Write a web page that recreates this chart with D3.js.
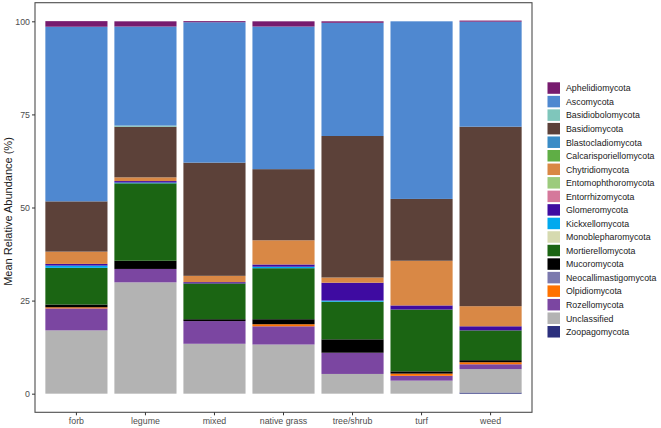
<!DOCTYPE html>
<html>
<head>
<meta charset="utf-8">
<script src="https://cdn.jsdelivr.net/npm/d3@7"></script>
<style>
  body { margin: 0; background: #fff; }
  svg { display: block; font-family: "Liberation Sans", Arial, sans-serif; }
</style>
</head>
<body>
<svg id="chart" width="661" height="428"></svg>
<script>
// ---- Data ----
const categories = ["forb", "legume", "mixed", "native grass", "tree/shrub", "turf", "weed"];
const phyla = ["Aphelidiomycota", "Ascomycota", "Basidiobolomycota", "Basidiomycota", "Blastocladiomycota",
  "Calcarisporiellomycota", "Chytridiomycota", "Entomophthoromycota", "Entorrhizomycota", "Glomeromycota",
  "Kickxellomycota", "Monoblepharomycota", "Mortierellomycota", "Mucoromycota", "Neocallimastigomycota",
  "Olpidiomycota", "Rozellomycota", "Unclassified", "Zoopagomycota"];
const phylumColors = ["#771b6e", "#4f88d0", "#7fc6bb", "#5c4139", "#3a8cc6",
  "#5fae45", "#d98845", "#9ccb7d", "#d5789b", "#3e0ba1",
  "#00a9ee", "#d6dab0", "#1b6513", "#000000", "#7b79ae",
  "#ff7200", "#7b46a1", "#b3b3b3", "#2b2f7d"];

// values per phylum, in category order
const aphelidiomycota        = [1.5, 1.4, 0.3, 1.4, 0.4, 0.0, 0.3];
const ascomycota             = [46.9, 26.6, 37.7, 38.3, 30.4, 47.7, 28.2];
const basidiobolomycota      = [0.0, 0.3, 0.0, 0.0, 0.0, 0.0, 0.0];
const basidiomycota          = [13.5, 13.6, 30.4, 19.1, 38.0, 16.6, 48.2];
const blastocladiomycota     = [0.0, 0.0, 0.0, 0.0, 0.0, 0.0, 0.0];
const calcarisporiellomycota = [0.0, 0.0, 0.0, 0.0, 0.0, 0.0, 0.0];
const chytridiomycota        = [3.3, 1.0, 1.7, 6.5, 1.4, 12.0, 5.4];
const entomophthoromycota    = [0.0, 0.0, 0.0, 0.0, 0.0, 0.0, 0.0];
const entorrhizomycota       = [0.0, 0.0, 0.0, 0.0, 0.0, 0.0, 0.0];
const glomeromycota          = [0.45, 0.4, 0.35, 0.6, 4.8, 1.1, 1.1];
const kickxellomycota        = [0.6, 0.2, 0.0, 0.4, 0.3, 0.0, 0.0];
const monoblepharomycota     = [0.0, 0.0, 0.0, 0.0, 0.0, 0.0, 0.0];
const mortierellomycota      = [9.85, 20.8, 9.6, 13.7, 10.1, 16.6, 8.0];
const mucoromycota           = [0.75, 2.2, 0.5, 1.35, 3.6, 0.6, 0.55];
const neocallimastigomycota  = [0.0, 0.0, 0.0, 0.0, 0.0, 0.0, 0.0];
const olpidiomycota          = [0.3, 0.0, 0.0, 0.55, 0.0, 0.6, 0.55];
const rozellomycota          = [5.9, 3.6, 6.1, 4.9, 5.7, 1.3, 1.3];
const unclassified           = [17.0, 29.9, 13.4, 13.2, 5.3, 3.5, 6.3];
const zoopagomycota          = [0.0, 0.0, 0.0, 0.0, 0.0, 0.0, 0.3];

const yTicks = [0, 25, 50, 75, 100];

const seriesValues = [aphelidiomycota, ascomycota, basidiobolomycota, basidiomycota, blastocladiomycota,
  calcarisporiellomycota, chytridiomycota, entomophthoromycota, entorrhizomycota, glomeromycota,
  kickxellomycota, monoblepharomycota, mortierellomycota, mucoromycota, neocallimastigomycota,
  olpidiomycota, rozellomycota, unclassified, zoopagomycota];

// ---- Table ----
const table = categories.map((c, i) => {
  const row = { category: c };
  phyla.forEach((p, j) => { row[p] = seriesValues[j][i]; });
  return row;
});

// ---- Layout ----
const svg = d3.select("#chart");
const panel = { left: 35, right: 532, top: 2.7, bottom: 412.3 };

// ggplot-like discrete expansion: 0.6 units each side, bar width 0.9
const unit = (panel.right - panel.left) / (categories.length - 1 + 1.2);
const x = d3.scaleBand()
  .domain(categories)
  .range([panel.left + 0.6 * unit - unit / 2, panel.right - 0.6 * unit + unit / 2])
  .paddingInner(0.1)
  .paddingOuter(0.05);

const y = d3.scaleLinear()
  .domain([-5, 105])
  .range([panel.bottom, panel.top]);

const color = d3.scaleOrdinal().domain(phyla).range(phylumColors);

// stack: first phylum on top -> stack keys reversed
const stack = d3.stack().keys(phyla.slice().reverse());
const stacked = stack(table);

const g = svg.append("g");
g.selectAll("g.layer")
  .data(stacked)
  .join("g")
  .attr("class", "layer")
  .attr("fill", d => color(d.key))
  .selectAll("rect")
  .data(d => d)
  .join("rect")
  .attr("x", d => x(d.data.category))
  .attr("width", x.bandwidth())
  .attr("y", d => y(d[1]))
  .attr("height", d => Math.max(0, y(d[0]) - y(d[1])));

// panel border
svg.append("rect")
  .attr("x", panel.left)
  .attr("y", panel.top)
  .attr("width", panel.right - panel.left)
  .attr("height", panel.bottom - panel.top)
  .attr("fill", "none")
  .attr("stroke", "#4d4d4d")
  .attr("stroke-width", 1.1);

// y axis
const yAxis = svg.append("g")
  .attr("transform", `translate(${panel.left},0)`)
  .call(d3.axisLeft(y).tickValues(yTicks).tickSize(3).tickPadding(2));
yAxis.select(".domain").remove();
yAxis.selectAll(".tick line").attr("stroke", "#333");
yAxis.selectAll(".tick text").attr("fill", "#4d4d4d").style("font-size", "8.8px")
  .style("font-family", "'Liberation Sans', Arial, sans-serif");

// x axis
const xAxis = svg.append("g")
  .attr("transform", `translate(0,${panel.bottom})`)
  .call(d3.axisBottom(x).tickSize(3).tickPadding(2));
xAxis.select(".domain").remove();
xAxis.selectAll(".tick line").attr("stroke", "#333");
xAxis.selectAll(".tick text").attr("fill", "#4d4d4d").style("font-size", "8.8px")
  .style("font-family", "'Liberation Sans', Arial, sans-serif");

// y title
svg.append("text")
  .attr("transform", `translate(11.5,${(panel.top + panel.bottom) / 2 + 4}) rotate(-90)`)
  .attr("text-anchor", "middle")
  .attr("fill", "#1a1a1a")
  .style("font-size", "11px")
  .text("Mean Relative Abundance (%)");

// legend
const legendTop = 82.3, legendStep = 13.54;
const lg = svg.append("g");
const items = lg.selectAll("g.item")
  .data(phyla)
  .join("g")
  .attr("class", "item")
  .attr("transform", (d, i) => `translate(547.5,${legendTop + i * legendStep})`);
items.append("rect")
  .attr("width", 12.5)
  .attr("height", 11.5)
  .attr("fill", d => color(d));
items.append("text")
  .attr("x", 18.5)
  .attr("y", 6)
  .attr("dy", "0.35em")
  .attr("fill", "#1a1a1a")
  .style("font-size", "8.8px")
  .text(d => d);
</script>
</body>
</html>
